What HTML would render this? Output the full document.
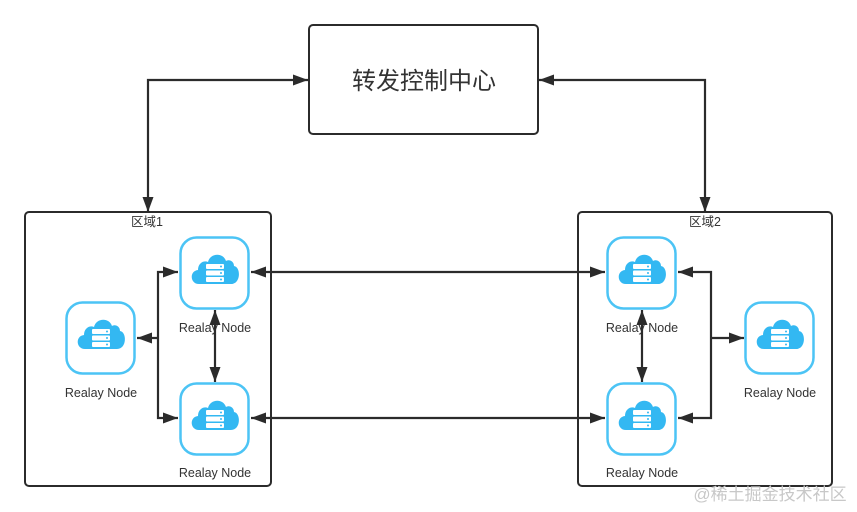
<!DOCTYPE html>
<html><head><meta charset="utf-8"><style>
html,body{margin:0;padding:0;background:#fff;}
svg{display:block;}
text{font-family:"Liberation Sans","Noto Sans CJK SC",sans-serif;fill:#333;}
</style></head><body>
<svg width="857" height="512" viewBox="0 0 857 512" xmlns="http://www.w3.org/2000/svg">
<defs>
<marker id="a" viewBox="0 0 15 11" refX="15" refY="5.5" markerWidth="15" markerHeight="11" markerUnits="userSpaceOnUse" orient="auto-start-reverse">
<path d="M0,0 L15,5.5 L0,11 Z" fill="#2b2b2b"/>
</marker>
<g id="ic">
<rect x="1.5" y="1.5" width="68" height="71" rx="16" fill="#fff" stroke="#4cc4f5" stroke-width="2.5"/>
<path d="M20,48 C11,48 10,35 19,34 C19,27 25,24 29,26 C31,17 44,16 47,25 C50,23 55,25 55,30 C62,31 62,48 52,48 Z" fill="#33b8f2"/>
<rect x="27" y="28" width="18" height="5" rx="1" fill="#fff"/>
<rect x="27" y="34.5" width="18" height="5" rx="1" fill="#fff"/>
<rect x="27" y="41" width="18" height="5" rx="1" fill="#fff"/>
<circle cx="42" cy="30.5" r="1" fill="#33b8f2"/><circle cx="42" cy="37" r="1" fill="#33b8f2"/><circle cx="42" cy="43.5" r="1" fill="#33b8f2"/>
</g>
</defs>
<g fill="none" stroke="#2b2b2b" stroke-width="2">
<rect x="309" y="25" width="229" height="109" rx="4"/>
<rect x="25" y="212" width="246" height="274" rx="4"/>
<rect x="578" y="212" width="254" height="274" rx="4"/>
</g>
<text x="424" y="89" font-size="24" text-anchor="middle">转发控制中心</text>
<text x="147" y="226" font-size="12.5" text-anchor="middle">区域1</text>
<text x="705" y="226" font-size="12.5" text-anchor="middle">区域2</text>

<use href="#ic" x="179" y="236"/>
<use href="#ic" x="65" y="301"/>
<use href="#ic" x="179" y="382"/>
<use href="#ic" x="606" y="236"/>
<use href="#ic" x="606" y="382"/>
<use href="#ic" x="744" y="301"/>

<g font-size="12.5" text-anchor="middle">
<text x="215" y="332">Realay Node</text>
<text x="101" y="397">Realay Node</text>
<text x="215" y="477">Realay Node</text>
<text x="642" y="332">Realay Node</text>
<text x="642" y="477">Realay Node</text>
<text x="780" y="397">Realay Node</text>
</g>

<g fill="none" stroke="#2b2b2b" stroke-width="2.2">
<polyline points="148,212 148,80 308,80" marker-start="url(#a)" marker-end="url(#a)"/>
<polyline points="705,212 705,80 539,80" marker-start="url(#a)" marker-end="url(#a)"/>
<line x1="251" y1="272" x2="605" y2="272" marker-start="url(#a)" marker-end="url(#a)"/>
<line x1="251" y1="418" x2="605" y2="418" marker-start="url(#a)" marker-end="url(#a)"/>
<line x1="215" y1="310" x2="215" y2="382" marker-start="url(#a)" marker-end="url(#a)"/>
<line x1="642" y1="310" x2="642" y2="382" marker-start="url(#a)" marker-end="url(#a)"/>
<polyline points="178,272 158,272 158,418 178,418" marker-start="url(#a)" marker-end="url(#a)"/>
<line x1="158" y1="338" x2="137" y2="338" marker-end="url(#a)"/>
<polyline points="678,272 711,272 711,418 678,418" marker-start="url(#a)" marker-end="url(#a)"/>
<line x1="711" y1="338" x2="744" y2="338" marker-end="url(#a)"/>
</g>
<text x="770" y="500" font-size="17" text-anchor="middle" style="fill:#c8c8c8">@稀土掘金技术社区</text>
</svg>
</body></html>
